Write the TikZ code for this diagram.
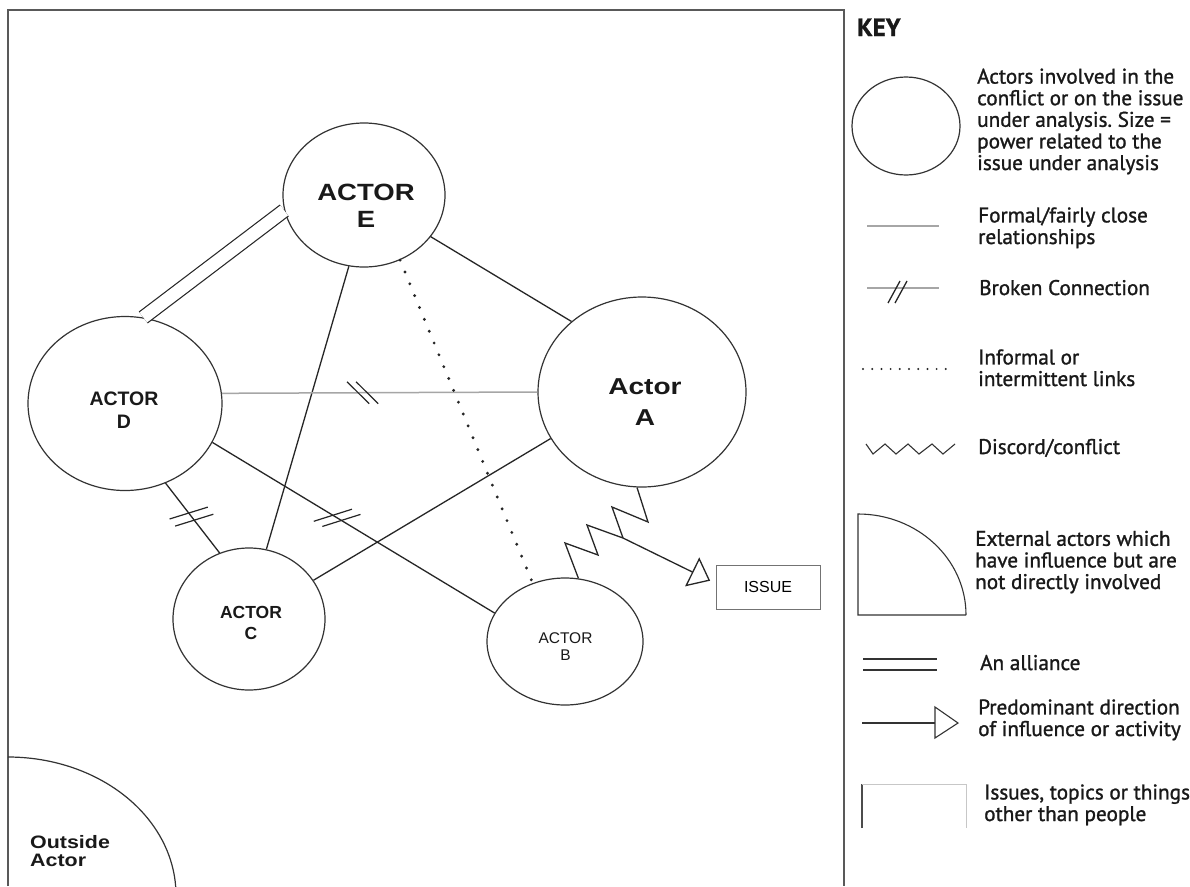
\documentclass[tikz,border=0pt]{standalone}
\usepackage{graphicx}
\usepackage{fontspec}
\setmainfont{Liberation Sans}
\newfontfamily\keyfont[FakeBold=1.2]{PT Sans}
\usetikzlibrary{shapes.geometric,arrows.meta,decorations.markings}
\newcommand\st[2]{\scalebox{#1}[1]{#2}}
\frenchspacing
\tikzset{
  ln/.style={line width=1.3pt, draw=black!85},
  actor/.style={ellipse, draw=black!80, line width=1.2pt, inner sep=0pt},
  atext/.style={align=center, inner sep=0pt, text=black!90},
  keytext/.style={anchor=base west, align=left, inner sep=0pt, text=black!90,
    font=\keyfont\fontsize{21.2}{21.6}\selectfont},
  grayln/.style={line width=1.5pt, draw=black!35},
  dotln/.style={line width=3.2pt, line cap=round, dash pattern=on 0pt off 12.8pt, draw=black!85},
  keydot/.style={line width=2.2pt, line cap=round, dash pattern=on 0pt off 9.2pt, draw=black!85},
  ally/.style={double, double distance=12.5pt, line width=1.2pt, draw=black!85},
  brk/.style n args={4}{postaction={decorate, decoration={markings,
     mark=at position #1 with {
       \draw[line width=1.2pt, black!85] (-#3/2,0pt) ++(#2:-#4/2) -- ++(#2:#4);
       \draw[line width=1.2pt, black!85] (#3/2,0pt) ++(#2:-#4/2) -- ++(#2:#4);}}}},
}
\begin{document}
\begin{tikzpicture}[x=1pt,y=-1pt]
\useasboundingbox (0,0) rectangle (1190,886);
\fill[white] (0,0) rectangle (1190,886);
% frame
\draw[line width=1.5pt, black!65] (8,886) -- (8,10) -- (844,10) -- (844,886);

% actors
\node[actor, minimum width=162, minimum height=144] (E) at (364,195) {};
\node[actor, minimum width=194, minimum height=174] (D) at (125,403.5) {};
\node[actor, minimum width=208, minimum height=190] (A) at (642,392) {};
\node[actor, minimum width=152, minimum height=142] (C) at (249,619) {};
\node[actor, minimum width=156, minimum height=127] (B) at (565,641.5) {};

\node[atext, font=\fontsize{23.5}{27}\selectfont\bfseries] (Et) at (366,206) {\st{1.17}{ACTOR}\\\st{1.17}{E}};
\node[atext, font=\fontsize{19.5}{23}\selectfont\bfseries] (Dt) at (124,410) {ACTOR\\D};
\node[atext, font=\fontsize{23}{31}\selectfont\bfseries] (At) at (645,402) {\st{1.22}{Actor}\\\st{1.22}{A}};
\node[atext, font=\fontsize{17.5}{21}\selectfont\bfseries] (Ct) at (251,622.5) {ACTOR\\C};
\node[atext, font=\fontsize{15.5}{17}\selectfont] (Bt) at (565.5,647) {ACTOR\\B};

% issue
\node[draw=black!55, line width=1pt, minimum width=104, minimum height=44, inner sep=0pt,
      font=\fontsize{16}{16}\selectfont] (issue) at (768,587) {ISSUE};

% connectors
\draw[ally] (D.78) -- (E.191);
\draw[ln] (E.-32) -- (A.135);
\draw[ln] (E.258) -- (C.76);
\draw[ln] (C.31) -- (A.207);
\draw[ln, brk={0.48}{69.5}{9pt}{40pt}] (D.-63) -- (C.114);
\draw[ln, brk={0.442}{48.7}{10pt}{40pt}] (D.-24) -- (B.158);
\draw[grayln, brk={0.446}{-45}{9pt}{31pt}] (D.6) -- (A.180);
\draw[dotln] (E.-61.5) -- (B.119);
\draw[ln] (A.-93) -- (648,522) -- (612,507) -- (623,538) coordinate (z)
  -- (587,525) -- (598,555) -- (565,543) -- (B.78);
\draw[ln, shorten >=6pt, -{Triangle[open, length=20pt, width=32pt]}] (z) -- (issue.176);

% outside actor
\draw[line width=1.2pt, black!80] (8,757) arc[start angle=90, end angle=-5, x radius=168pt, y radius=138pt];
\node[anchor=north west, align=left, inner sep=0pt, text=black!90,
      font=\fontsize{18}{18.5}\selectfont\bfseries] (outside) at (30,835) {\st{1.19}{Outside}\\\st{1.19}{Actor}};

% key
\node[anchor=base west, inner sep=0pt, text=black!90, font=\keyfont\bfseries\fontsize{25}{25}\selectfont] (key) at (857,36) {KEY};

\node[actor, minimum width=108, minimum height=98] (kA) at (906,126) {};
\node[keytext] (k1) at (977,170) {Actors involved in the\\conflict or on the issue\\under analysis. Size =\\power related to the\\issue under analysis};

\draw[grayln] (867,226) -- (939,226);
\node[keytext] (k2) at (978,244) {Formal/fairly close\\relationships};

\draw[grayln] (867,288) -- (939,288);
\draw[ln] (888,303) -- (900,281);
\draw[ln] (895,303) -- (907,281);
\node[keytext] (k3) at (979,295) {Broken Connection};

\draw[keydot] (863,369) -- (946,369);
\node[keytext] (k4) at (978,386) {Informal or\\intermittent links};

\draw[line width=1.1pt, black!80] (866,444) -- (873,454) -- (885,444) -- (896,454) -- (908,444) -- (919,454) -- (932,444) -- (943,454) -- (955,444);
\node[keytext] (k5) at (978,454) {Discord/conflict};

\draw[line width=1.1pt, black!80] (966,615) -- (858,615) -- (858,514) arc[start angle=90, end angle=0, x radius=108pt, y radius=101pt];
\node[keytext] (k6) at (975,589) {External actors which\\have influence but are\\not directly involved};

\draw[line width=1.1pt, black!80] (863,659) -- (937,659);
\draw[line width=1.1pt, black!80] (863,670) -- (937,670);
\node[keytext] (k7) at (980,670) {An alliance};

\draw[line width=1.1pt, black!80] (862,723) -- (935,723);
\draw[line width=1.1pt, black!80] (935,707) -- (958,723) -- (935,738) -- cycle;
\node[keytext] (k8) at (978,736) {Predominant direction\\of influence or activity};

\draw[line width=1.3pt, black!70] (862,828) -- (862,784);
\draw[line width=1pt, black!22] (862,784) -- (966,784) -- (966,828);
\node[keytext] (k9) at (984,821) {Issues, topics or things\\other than people};
\end{tikzpicture}
\end{document}
